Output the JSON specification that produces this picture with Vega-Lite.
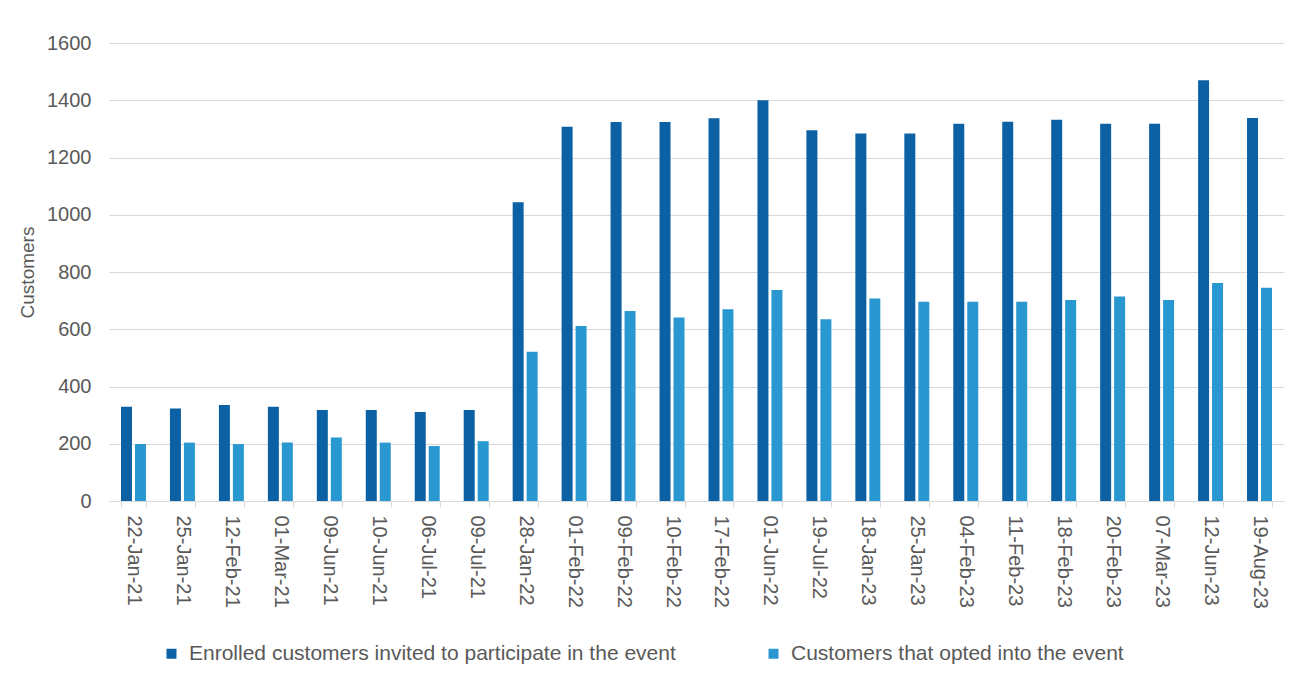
{
  "$schema": "https://vega.github.io/schema/vega-lite/v6.json",
  "width": 1175,
  "height": 458,
  "autosize": {"type": "none"},
  "padding": {"left": 109, "top": 43, "right": 27, "bottom": 177},
  "background": "white",
  "data": {
    "values": [
      {"date": "22-Jan-21", "series": "Enrolled customers invited to participate in the event", "customers": 329},
      {"date": "22-Jan-21", "series": "Customers that opted into the event", "customers": 199},
      {"date": "25-Jan-21", "series": "Enrolled customers invited to participate in the event", "customers": 323},
      {"date": "25-Jan-21", "series": "Customers that opted into the event", "customers": 204},
      {"date": "12-Feb-21", "series": "Enrolled customers invited to participate in the event", "customers": 335},
      {"date": "12-Feb-21", "series": "Customers that opted into the event", "customers": 199},
      {"date": "01-Mar-21", "series": "Enrolled customers invited to participate in the event", "customers": 329},
      {"date": "01-Mar-21", "series": "Customers that opted into the event", "customers": 204},
      {"date": "09-Jun-21", "series": "Enrolled customers invited to participate in the event", "customers": 318},
      {"date": "09-Jun-21", "series": "Customers that opted into the event", "customers": 222},
      {"date": "10-Jun-21", "series": "Enrolled customers invited to participate in the event", "customers": 318},
      {"date": "10-Jun-21", "series": "Customers that opted into the event", "customers": 204},
      {"date": "06-Jul-21", "series": "Enrolled customers invited to participate in the event", "customers": 311},
      {"date": "06-Jul-21", "series": "Customers that opted into the event", "customers": 192},
      {"date": "09-Jul-21", "series": "Enrolled customers invited to participate in the event", "customers": 318},
      {"date": "09-Jul-21", "series": "Customers that opted into the event", "customers": 209},
      {"date": "28-Jan-22", "series": "Enrolled customers invited to participate in the event", "customers": 1044},
      {"date": "28-Jan-22", "series": "Customers that opted into the event", "customers": 521},
      {"date": "01-Feb-22", "series": "Enrolled customers invited to participate in the event", "customers": 1307},
      {"date": "01-Feb-22", "series": "Customers that opted into the event", "customers": 611},
      {"date": "09-Feb-22", "series": "Enrolled customers invited to participate in the event", "customers": 1324},
      {"date": "09-Feb-22", "series": "Customers that opted into the event", "customers": 664},
      {"date": "10-Feb-22", "series": "Enrolled customers invited to participate in the event", "customers": 1324},
      {"date": "10-Feb-22", "series": "Customers that opted into the event", "customers": 641},
      {"date": "17-Feb-22", "series": "Enrolled customers invited to participate in the event", "customers": 1337},
      {"date": "17-Feb-22", "series": "Customers that opted into the event", "customers": 670},
      {"date": "01-Jun-22", "series": "Enrolled customers invited to participate in the event", "customers": 1400},
      {"date": "01-Jun-22", "series": "Customers that opted into the event", "customers": 737},
      {"date": "19-Jul-22", "series": "Enrolled customers invited to participate in the event", "customers": 1295},
      {"date": "19-Jul-22", "series": "Customers that opted into the event", "customers": 635},
      {"date": "18-Jan-23", "series": "Enrolled customers invited to participate in the event", "customers": 1284},
      {"date": "18-Jan-23", "series": "Customers that opted into the event", "customers": 707},
      {"date": "25-Jan-23", "series": "Enrolled customers invited to participate in the event", "customers": 1284},
      {"date": "25-Jan-23", "series": "Customers that opted into the event", "customers": 696},
      {"date": "04-Feb-23", "series": "Enrolled customers invited to participate in the event", "customers": 1318},
      {"date": "04-Feb-23", "series": "Customers that opted into the event", "customers": 696},
      {"date": "11-Feb-23", "series": "Enrolled customers invited to participate in the event", "customers": 1325},
      {"date": "11-Feb-23", "series": "Customers that opted into the event", "customers": 696},
      {"date": "18-Feb-23", "series": "Enrolled customers invited to participate in the event", "customers": 1332},
      {"date": "18-Feb-23", "series": "Customers that opted into the event", "customers": 702},
      {"date": "20-Feb-23", "series": "Enrolled customers invited to participate in the event", "customers": 1318},
      {"date": "20-Feb-23", "series": "Customers that opted into the event", "customers": 714},
      {"date": "07-Mar-23", "series": "Enrolled customers invited to participate in the event", "customers": 1318},
      {"date": "07-Mar-23", "series": "Customers that opted into the event", "customers": 702},
      {"date": "12-Jun-23", "series": "Enrolled customers invited to participate in the event", "customers": 1470},
      {"date": "12-Jun-23", "series": "Customers that opted into the event", "customers": 762},
      {"date": "19-Aug-23", "series": "Enrolled customers invited to participate in the event", "customers": 1338},
      {"date": "19-Aug-23", "series": "Customers that opted into the event", "customers": 745}
    ]
  },
  "mark": {"type": "bar"},
  "encoding": {
    "x": {
      "field": "date",
      "type": "nominal",
      "sort": null,
      "title": null,
      "scale": {"paddingInner": 0.49, "paddingOuter": 0.245},
      "axis": {
        "labelAngle": 90,
        "labelAlign": "left",
        "labelBaseline": "middle",
        "labelFont": "Liberation Sans",
        "labelFontSize": 20,
        "labelColor": "#595959",
        "labelPadding": 8,
        "tickBand": "extent",
        "tickSize": 6,
        "tickColor": "#D9D9D9",
        "domainColor": "#D9D9D9",
        "grid": false
      }
    },
    "xOffset": {
      "field": "series",
      "type": "nominal",
      "sort": ["Enrolled customers invited to participate in the event", "Customers that opted into the event"],
      "scale": {"paddingInner": 0.214, "paddingOuter": 0}
    },
    "y": {
      "field": "customers",
      "type": "quantitative",
      "title": "Customers",
      "scale": {"domain": [0, 1600], "nice": false},
      "axis": {
        "values": [0, 200, 400, 600, 800, 1000, 1200, 1400, 1600],
        "format": "d",
        "domain": false,
        "ticks": false,
        "labelFont": "Liberation Sans",
        "labelFontSize": 20,
        "labelColor": "#595959",
        "labelPadding": 18,
        "gridColor": "#D9D9D9",
        "titleFont": "Liberation Sans",
        "titleFontSize": 19,
        "titleFontWeight": "normal",
        "titleColor": "#595959",
        "titlePadding": 9
      }
    },
    "color": {
      "field": "series",
      "type": "nominal",
      "sort": ["Enrolled customers invited to participate in the event", "Customers that opted into the event"],
      "scale": {"range": ["#0B61A4", "#2997D0"]},
      "legend": {
        "title": null,
        "orient": "none",
        "legendX": 52,
        "legendY": 600,
        "direction": "horizontal",
        "columns": 2,
        "columnPadding": 87,
        "symbolType": "square",
        "symbolSize": 100,
        "symbolStrokeWidth": 0,
        "labelFont": "Liberation Sans",
        "labelFontSize": 21,
        "labelColor": "#595959",
        "labelLimit": 700,
        "labelOffset": 7
      }
    }
  },
  "config": {
    "view": {"stroke": null}
  }
}
